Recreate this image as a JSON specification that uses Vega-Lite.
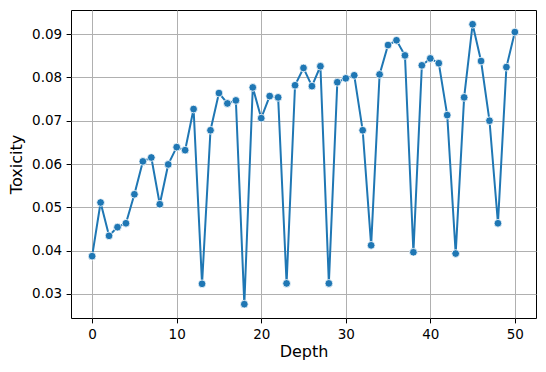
{
  "$schema": "https://vega.github.io/schema/vega-lite/v6.json",
  "width": 465,
  "height": 308,
  "autosize": {"type": "none"},
  "padding": {"left": 71, "top": 10, "right": 10, "bottom": 54},
  "background": "white",
  "config": {
    "view": {"stroke": "black", "strokeWidth": 1},
    "font": "DejaVu Sans",
    "axis": {
      "domain": false,
      "grid": true,
      "gridColor": "#b0b0b0",
      "gridWidth": 1,
      "gridOpacity": 1,
      "tickColor": "black",
      "tickSize": 4.9,
      "tickWidth": 1,
      "labelFontSize": 13.5,
      "labelColor": "black",
      "labelPadding": 4.5,
      "titleFontSize": 16,
      "titleFontWeight": "normal",
      "titleColor": "black",
      "labelFont": "DejaVu Sans",
      "titleFont": "DejaVu Sans"
    }
  },
  "data": {
    "values": [
      {"Depth": 0, "Toxicity": 0.0387},
      {"Depth": 1, "Toxicity": 0.0511},
      {"Depth": 2, "Toxicity": 0.0434},
      {"Depth": 3, "Toxicity": 0.0454},
      {"Depth": 4, "Toxicity": 0.0463},
      {"Depth": 5, "Toxicity": 0.0530},
      {"Depth": 6, "Toxicity": 0.0606},
      {"Depth": 7, "Toxicity": 0.0615},
      {"Depth": 8, "Toxicity": 0.0507},
      {"Depth": 9, "Toxicity": 0.0599},
      {"Depth": 10, "Toxicity": 0.0639},
      {"Depth": 11, "Toxicity": 0.0632},
      {"Depth": 12, "Toxicity": 0.0727},
      {"Depth": 13, "Toxicity": 0.0323},
      {"Depth": 14, "Toxicity": 0.0678},
      {"Depth": 15, "Toxicity": 0.0764},
      {"Depth": 16, "Toxicity": 0.0740},
      {"Depth": 17, "Toxicity": 0.0747},
      {"Depth": 18, "Toxicity": 0.0276},
      {"Depth": 19, "Toxicity": 0.0777},
      {"Depth": 20, "Toxicity": 0.0706},
      {"Depth": 21, "Toxicity": 0.0757},
      {"Depth": 22, "Toxicity": 0.0754},
      {"Depth": 23, "Toxicity": 0.0324},
      {"Depth": 24, "Toxicity": 0.0782},
      {"Depth": 25, "Toxicity": 0.0822},
      {"Depth": 26, "Toxicity": 0.0780},
      {"Depth": 27, "Toxicity": 0.0826},
      {"Depth": 28, "Toxicity": 0.0324},
      {"Depth": 29, "Toxicity": 0.0789},
      {"Depth": 30, "Toxicity": 0.0798},
      {"Depth": 31, "Toxicity": 0.0805},
      {"Depth": 32, "Toxicity": 0.0678},
      {"Depth": 33, "Toxicity": 0.0412},
      {"Depth": 34, "Toxicity": 0.0807},
      {"Depth": 35, "Toxicity": 0.0875},
      {"Depth": 36, "Toxicity": 0.0886},
      {"Depth": 37, "Toxicity": 0.0851},
      {"Depth": 38, "Toxicity": 0.0396},
      {"Depth": 39, "Toxicity": 0.0828},
      {"Depth": 40, "Toxicity": 0.0844},
      {"Depth": 41, "Toxicity": 0.0833},
      {"Depth": 42, "Toxicity": 0.0713},
      {"Depth": 43, "Toxicity": 0.0393},
      {"Depth": 44, "Toxicity": 0.0754},
      {"Depth": 45, "Toxicity": 0.0923},
      {"Depth": 46, "Toxicity": 0.0838},
      {"Depth": 47, "Toxicity": 0.0700},
      {"Depth": 48, "Toxicity": 0.0463},
      {"Depth": 49, "Toxicity": 0.0824},
      {"Depth": 50, "Toxicity": 0.0905}
    ]
  },
  "encoding": {
    "x": {
      "field": "Depth",
      "type": "quantitative",
      "scale": {"domain": [-2.5, 52.5], "nice": false, "zero": false},
      "axis": {"values": [0, 10, 20, 30, 40, 50], "title": "Depth", "titlePadding": 3}
    },
    "y": {
      "field": "Toxicity",
      "type": "quantitative",
      "scale": {"domain": [0.0244, 0.0956], "nice": false, "zero": false},
      "axis": {"values": [0.03, 0.04, 0.05, 0.06, 0.07, 0.08, 0.09], "format": ".2f", "title": "Toxicity", "titlePadding": 7}
    }
  },
  "layer": [
    {"mark": {"type": "line", "color": "#1f77b4", "strokeWidth": 2}},
    {"mark": {"type": "point", "shape": "circle", "filled": true, "fill": "#1f77b4", "stroke": "white", "strokeWidth": 0.8, "size": 60, "opacity": 1}}
  ]
}
